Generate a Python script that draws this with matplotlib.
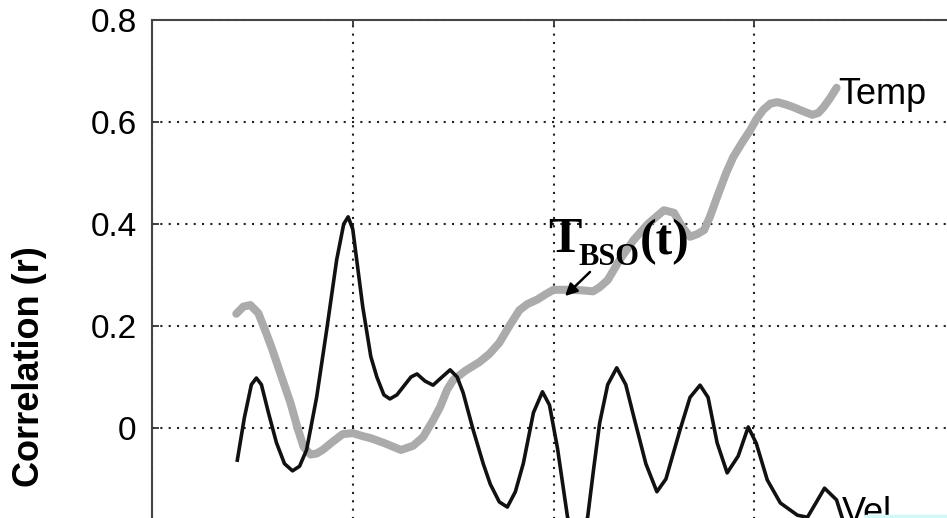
import matplotlib
matplotlib.use("Agg")
import matplotlib.pyplot as plt
from matplotlib.patches import Rectangle, FancyArrowPatch

# Fonts / sizes
plt.rcParams.update({
    "font.family": "Liberation Sans",
    "font.size": 24,
    "axes.linewidth": 1.5,
})

# Data, lag axis in arbitrary units
temp_x = [4.2, 4.55, 4.9, 5.3, 5.7, 6.0, 6.5, 6.9, 7.25, 7.55, 7.9, 8.2, 8.5, 9.0,
          9.5, 10.0, 10.5, 10.9, 11.6, 12.4, 13.0, 13.5, 14.0, 14.35, 14.7, 15.0,
          15.6, 16.3, 16.8, 17.3, 17.8, 18.3, 18.7, 19.2, 19.6, 20.0, 20.7, 21.4,
          21.97, 22.3, 22.7, 23.3, 24.0, 24.7, 25.5, 26.0, 26.4, 26.8, 27.15, 27.5,
          27.8, 28.15, 28.6, 28.95, 29.4, 29.8, 30.1, 30.45, 30.8, 31.15, 31.6,
          31.95, 32.5, 32.9, 33.2, 33.45, 33.8, 34.1]
temp_r = [0.224, 0.238, 0.241, 0.225, 0.185, 0.153, 0.095, 0.049, 0.0, -0.037,
          -0.052, -0.050, -0.043, -0.027, -0.012, -0.010, -0.016, -0.020, -0.030,
          -0.043, -0.035, -0.018, 0.015, 0.041, 0.075, 0.094, 0.112, 0.129, 0.145,
          0.167, 0.200, 0.231, 0.243, 0.252, 0.262, 0.271, 0.271, 0.270, 0.268,
          0.276, 0.290, 0.330, 0.369, 0.400, 0.427, 0.422, 0.395, 0.375, 0.380,
          0.388, 0.415, 0.453, 0.500, 0.531, 0.560, 0.584, 0.605, 0.624, 0.636,
          0.639, 0.634, 0.629, 0.620, 0.614, 0.618, 0.629, 0.648, 0.667]

vel_x = [4.25, 4.6, 4.95, 5.2, 5.45, 5.8, 6.2, 6.6, 7.0, 7.35, 7.7, 8.2, 8.7, 9.2,
         9.55, 9.77, 10.0, 10.5, 10.9, 11.2, 11.55, 11.85, 12.2, 12.5, 12.9, 13.2,
         13.6, 14.0, 14.45, 14.85, 15.2, 15.5, 16.0, 16.5, 16.85, 17.3, 17.7, 18.1,
         18.5, 19.0, 19.45, 19.8, 20.2, 20.7, 21.2, 21.7, 22.0, 22.3, 22.7, 23.15,
         23.6, 24.0, 24.6, 25.15, 25.6, 26.3, 26.8, 27.3, 27.7, 28.15, 28.65, 29.2,
         29.7, 30.1, 30.65, 31.3, 32.15, 32.65, 33.1, 33.5, 34.1, 34.45]
vel_r = [-0.063, 0.020, 0.085, 0.098, 0.085, 0.030, -0.029, -0.070, -0.084, -0.075,
         -0.043, 0.060, 0.192, 0.330, 0.400, 0.414, 0.390, 0.237, 0.140, 0.100,
         0.065, 0.057, 0.065, 0.080, 0.100, 0.106, 0.092, 0.084, 0.100, 0.114,
         0.100, 0.069, -0.004, -0.070, -0.110, -0.145, -0.155, -0.125, -0.069,
         0.030, 0.071, 0.045, -0.040, -0.175, -0.225, -0.175, -0.080, 0.010,
         0.085, 0.118, 0.085, 0.022, -0.070, -0.125, -0.100, -0.004, 0.060, 0.084,
         0.060, -0.029, -0.088, -0.055, 0.002, -0.030, -0.102, -0.147, -0.171,
         -0.175, -0.145, -0.118, -0.141, -0.185]

yticks = [0, 0.2, 0.4, 0.6, 0.8]
ytick_labels = ["0", "0.2", "0.4", "0.6", "0.8"]
xticks = [0, 10, 20, 30, 40]

W, H = 947, 518
fig = plt.figure(figsize=(W / 100, H / 100), dpi=100)

# axes runs past the bottom and right edge (picture is a crop)
ax = fig.add_axes([152 / W, 1 - 530 / H, (955 - 152) / W, (530 - 20) / H])
ax.set_xlim(0, 40)
ax.set_ylim(-0.2, 0.8)

ax.plot(temp_x, temp_r, color="#ababab", lw=5.8, solid_capstyle="round",
        solid_joinstyle="round", zorder=3)
ax.plot(vel_x, vel_r, color="#111111", lw=2.6, solid_joinstyle="round", zorder=4)

ax.set_yticks(yticks)
ax.set_yticklabels(ytick_labels)
ax.set_xticks(xticks)
ax.set_xticklabels([])
ax.tick_params(direction="in", length=5, width=1.3, color="#333333",
               top=True, right=True, pad=11)
ax.grid(True, color="#222222", linestyle=(0, (1, 3)), linewidth=1.5)
for s in ax.spines.values():
    s.set_color("#444444")

# line labels
fig.text(838 / W, 1 - 104 / H, "Temp", fontsize=26, ha="left", va="baseline")
fig.text(842 / W, 1 - 523 / H, "Vel", fontsize=26, ha="left", va="baseline")

# T_BSO(t) annotation
serif = dict(family="Liberation Serif", weight="bold", va="baseline", ha="left")
fig.text(548 / W, 1 - 252 / H, "T", fontsize=36, **serif)
fig.text(578 / W, 1 - 265 / H, "BSO", fontsize=22, **serif)
fig.text(640 / W, 1 - 254 / H, "(t)", fontsize=36, **serif)
fig.add_artist(FancyArrowPatch(
    (592 / W, 1 - 270 / H), (563 / W, 1 - 298 / H),
    transform=fig.transFigure, arrowstyle="-|>", mutation_scale=18,
    color="black", lw=1.8))

# y label
fig.text(30 / W, 1 - 367 / H, "Correlation (r)", fontsize=26, fontweight="bold",
         rotation=90, ha="center", va="center")

# light strip in the lower right corner
fig.patches.append(Rectangle((865 / W, 0), (W - 865) / W, 3 / H,
                             transform=fig.transFigure, color="#cdfafa", zorder=10))

fig.savefig("out.png", dpi=100)
